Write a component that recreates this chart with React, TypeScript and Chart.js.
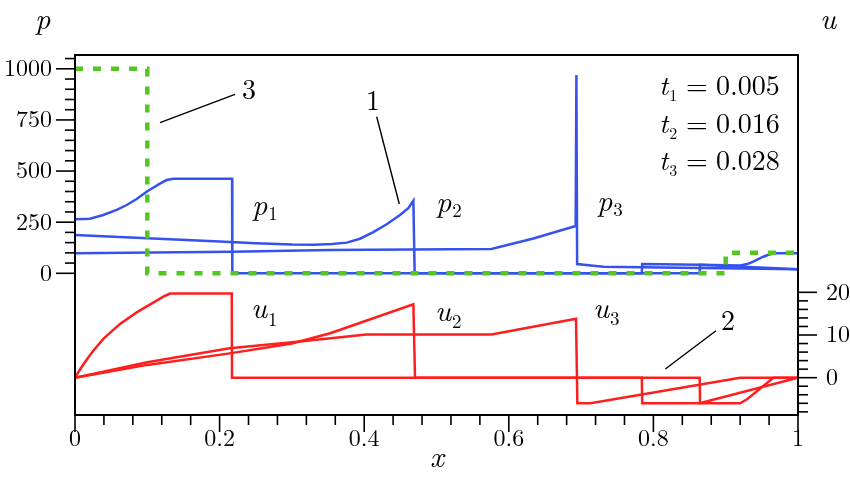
import React, { useEffect, useRef } from "react";
import { Chart, registerables } from "chart.js";
Chart.register(...registerables);

// ---- data ----
const initX = [0, 0.1, 0.1, 0.9, 0.9, 1];
const initP = [1000, 1000, 0, 0, 100, 100];

const p1X = [0, 0.0207, 0.039, 0.0577, 0.0715, 0.0853, 0.099, 0.118, 0.1268, 0.136, 0.2172, 0.2176, 0.864, 0.8645, 0.92, 0.93, 0.938, 0.952, 0.96, 0.968, 1];
const p1Y = [264, 267, 285, 310, 334, 363, 399, 440, 456, 462, 462, 0, 0, 42, 38, 45, 57, 81, 92, 98, 98];

const p2X = [0, 0.1, 0.2, 0.25, 0.3, 0.33, 0.355, 0.3758, 0.3942, 0.4126, 0.4311, 0.4495, 0.461, 0.468, 0.4698, 0.784, 0.7845, 0.864, 1];
const p2Y = [187, 171, 155, 147, 141, 140, 143, 150, 169, 201, 240, 285, 318, 355, 0, 0, 45, 42, 20];

const p3X = [0, 0.217, 0.353, 0.576, 0.634, 0.6925, 0.6935, 0.6945, 0.717, 0.731, 1];
const p3Y = [98, 106, 114, 119, 170, 231, 970, 45, 37, 32, 20];

const u1X = [0, 0.008, 0.0161, 0.0253, 0.0392, 0.0622, 0.0853, 0.1222, 0.1314, 0.2168, 0.2172, 0.864, 0.8645, 0.92, 0.93, 0.966, 1];
const u1Y = [0, 2.2, 4.2, 6.3, 9.1, 12.6, 15.3, 19.0, 19.7, 19.7, 0, 0, -6, -6, -5, 0, 0];

const u2X = [0, 0.1, 0.214, 0.3, 0.353, 0.468, 0.4703, 0.784, 0.7845, 0.864, 1];
const u2Y = [0, 3.0, 5.7, 8.0, 10.4, 17.2, 0, 0, -6, -6, 0];

const u3X = [0, 0.1, 0.214, 0.311, 0.403, 0.576, 0.693, 0.6948, 0.713, 0.92, 1];
const u3Y = [0, 3.6, 6.9, 8.5, 10.1, 10.1, 13.8, -6, -6, 0, 0];

const xMajorTicks = [0, 0.2, 0.4, 0.6, 0.8, 1];
const xTickLabels = ["0", "0.2", "0.4", "0.6", "0.8", "1"];
const pMajorTicks = [0, 250, 500, 750, 1000];
const pTickLabels = ["0", "250", "500", "750", "1000"];
const uMajorTicks = [0, 10, 20];
const uTickLabels = ["0", "10", "20"];

const BLUE = "#3552ef";
const RED = "#ff1e1e";
const GREEN = "#55c520";
const FAM = `"Latin Modern Roman"`;

function pts(xs: number[], ys: number[]) {
  return xs.map((x, i) => ({ x, y: ys[i] }));
}

const decorPlugin = {
  id: "decor",
  afterDraw(chart: any) {
    const ctx: CanvasRenderingContext2D = chart.ctx;
    const xs = chart.scales.x;
    const ps = chart.scales.p;
    const us = chart.scales.u;
    const a = chart.chartArea;
    ctx.save();
    ctx.strokeStyle = "#000";
    ctx.fillStyle = "#000";
    ctx.lineWidth = 2;
    ctx.strokeRect(a.left, a.top, a.right - a.left, a.bottom - a.top);
    ctx.lineWidth = 1.6;
    for (let i = 0; i <= 25; i++) {
      const px = xs.getPixelForValue(i * 0.04);
      const major = i % 5 === 0;
      ctx.beginPath();
      ctx.moveTo(px, a.bottom);
      ctx.lineTo(px, a.bottom + (major ? 17 : 10));
      ctx.stroke();
    }
    for (let i = 0; i <= 21; i++) {
      const py = ps.getPixelForValue(i * 50);
      const major = i % 5 === 0;
      ctx.beginPath();
      ctx.moveTo(a.left, py);
      ctx.lineTo(a.left - (major ? 19 : 10), py);
      ctx.stroke();
    }
    for (let i = -4; i <= 10; i++) {
      const py = us.getPixelForValue(i * 2);
      const major = i % 5 === 0;
      ctx.beginPath();
      ctx.moveTo(a.right, py);
      ctx.lineTo(a.right + (major ? 19 : 10), py);
      ctx.stroke();
    }
    ctx.font = `24px ${FAM}`;
    ctx.textAlign = "center";
    ctx.textBaseline = "middle";
    xMajorTicks.forEach((v, i) => {
      ctx.fillText(xTickLabels[i], xs.getPixelForValue(v), 439);
    });
    ctx.textAlign = "right";
    pMajorTicks.forEach((v, i) => {
      ctx.fillText(pTickLabels[i], 52, ps.getPixelForValue(v));
    });
    ctx.textAlign = "left";
    uMajorTicks.forEach((v, i) => {
      ctx.fillText(uTickLabels[i], 826, us.getPixelForValue(v));
    });
    ctx.textBaseline = "alphabetic";
    ctx.font = `italic 30px ${FAM}`;
    ctx.textAlign = "left";
    ctx.fillText("p", 35, 29);
    ctx.fillText("u", 820, 29);
    ctx.fillText("x", 430, 467);

    const sub = (m: string, s: string, x: number, y: number, mSize: number, sSize: number, sdy: number) => {
      ctx.font = `italic ${mSize}px ${FAM}`;
      ctx.textAlign = "left";
      ctx.fillText(m, x, y);
      const w = ctx.measureText(m).width;
      ctx.font = `${sSize}px ${FAM}`;
      ctx.fillText(s, x + w + 1, y + sdy);
    };
    sub("p", "1", 252, 215, 30, 19, 5);
    sub("p", "2", 436, 212, 30, 19, 5);
    sub("p", "3", 597, 211, 30, 19, 5);
    sub("u", "1", 251, 318, 30, 19, 8);
    sub("u", "2", 435, 321, 30, 19, 7);
    sub("u", "3", 593, 318, 30, 19, 7);

    const tl = ["0.005", "0.016", "0.028"];
    const tb = [95, 133, 170];
    tl.forEach((s, i) => {
      sub("t", String(i + 1), 659, tb[i], 28, 16, 6);
      ctx.font = `28px ${FAM}`;
      ctx.fillText("=", 686, tb[i]);
      ctx.fillText(s, 716, tb[i]);
    });

    ctx.font = `28px ${FAM}`;
    ctx.fillText("3", 242, 99);
    ctx.fillText("1", 366, 110);
    ctx.fillText("2", 721, 330);
    ctx.lineWidth = 1.4;
    ctx.beginPath();
    ctx.moveTo(160, 122.7); ctx.lineTo(235, 94.3);
    ctx.moveTo(376.7, 116.7); ctx.lineTo(399.3, 204);
    ctx.moveTo(716, 330.7); ctx.lineTo(665.3, 369);
    ctx.stroke();
    ctx.restore();
  },
};

export default function App() {
  const ref = useRef<HTMLCanvasElement>(null);
  useEffect(() => {
    if (!ref.current) return;
    const mk = (label: string, xs: number[], ys: number[], color: string, axis: string, extra: any = {}) => ({
      label,
      data: pts(xs, ys),
      borderColor: color,
      backgroundColor: color,
      borderWidth: 2.5,
      pointRadius: 0,
      tension: 0,
      fill: false,
      yAxisID: axis,
      ...extra,
    });
    const chart = new Chart(ref.current, {
      type: "line",
      data: {
        datasets: [
          mk("3", initX, initP, GREEN, "p", { borderWidth: 4.5, borderDash: [8, 10] }),
          mk("p1", p1X, p1Y, BLUE, "p"),
          mk("p2", p2X, p2Y, BLUE, "p"),
          mk("p3", p3X, p3Y, BLUE, "p"),
          mk("u1", u1X, u1Y, RED, "u"),
          mk("u2", u2X, u2Y, RED, "u"),
          mk("u3", u3X, u3Y, RED, "u"),
        ],
      },
      options: {
        responsive: false,
        animation: false,
        layout: { padding: { left: 75, top: 55, right: 52, bottom: 85 } },
        plugins: { legend: { display: false }, tooltip: { enabled: false } },
        scales: {
          x: { type: "linear", min: 0, max: 1, display: false },
          p: { type: "linear", position: "left", min: -692.9, max: 1067.5, display: false },
          u: { type: "linear", position: "right", min: -8.74, max: 75.6, display: false },
        },
      },
      plugins: [decorPlugin],
    } as any);
    let alive = true;
    const fonts = (document as any).fonts;
    if (fonts && fonts.load) {
      Promise.all([
        fonts.load(`24px ${FAM}`),
        fonts.load(`italic 30px ${FAM}`),
      ]).then(() => { if (alive) chart.update("none"); }).catch(() => {});
    }
    const t = setTimeout(() => { if (alive) chart.update("none"); }, 150);
    return () => { alive = false; clearTimeout(t); chart.destroy(); };
  }, []);
  return (
    <div style={{ position: "absolute", left: 0, top: 0, width: 850, height: 500, background: "#fff" }}>
      <canvas ref={ref} width={850} height={500} style={{ display: "block" }} />
    </div>
  );
}
